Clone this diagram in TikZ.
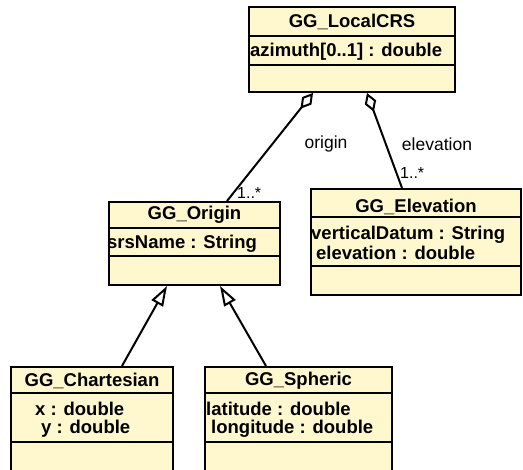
\documentclass[tikz,border=0pt]{standalone}
\usepackage{fontspec}
\setmainfont{Liberation Sans}
\usepackage{tikz}
\usetikzlibrary{arrows.meta,positioning,calc}
\definecolor{classfill}{RGB}{255,248,206}

\begin{document}
\begin{tikzpicture}[x=1pt,y=-1pt,
  classbox/.style={draw, line width=2pt, fill=classfill, inner sep=0pt},
  classname/.style={font=\fontsize{18.5}{20}\selectfont\bfseries, inner sep=0pt},
  attr/.style={font=\fontsize{18.5}{20}\selectfont\bfseries, inner sep=0pt, anchor=west},
  rolelabel/.style={font=\fontsize{17.5}{20}\selectfont, inner sep=0pt},
  mult/.style={font=\fontsize{16}{18}\selectfont, inner sep=0pt, anchor=base west},
  aggr/.style={line width=2pt, {Diamond[open,length=20pt,width=12pt]}-},
  gen/.style={line width=2pt, -{Triangle[open,length=20pt,width=13pt]}},
  sep/.style={line width=2pt}]

\useasboundingbox (0,0) rectangle (523,470);

% Classes
\node[classbox, minimum width=206pt, minimum height=85pt] (localcrs) at (352,49.5) {};
\draw[sep] ($(localcrs.north west)+(0,30)$) -- ($(localcrs.north east)+(0,30)$);
\draw[sep] ($(localcrs.north west)+(0,59)$) -- ($(localcrs.north east)+(0,59)$);
\node[classname] (localcrs-name) at ($(localcrs.north)+(0,16)$) {GG\_LocalCRS};
\node[attr] (localcrs-azimuth) at ($(localcrs.north west)+(2,46)$) {azimuth[0..1] : double};

\node[classbox, minimum width=171pt, minimum height=83pt] (origin) at (194.5,243.5) {};
\draw[sep] ($(origin.north west)+(0,27)$) -- ($(origin.north east)+(0,27)$);
\draw[sep] ($(origin.north west)+(0,55)$) -- ($(origin.north east)+(0,55)$);
\node[classname] (origin-name) at ($(origin.north)+(0,14)$) {GG\_Origin};
\node[attr] (origin-srsname) at ($(origin.north west)+(-1,43)$) {srsName : String};

\node[classbox, minimum width=210pt, minimum height=106pt] (elevation) at (416,242) {};
\draw[sep] ($(elevation.north west)+(0,29)$) -- ($(elevation.north east)+(0,29)$);
\draw[sep] ($(elevation.north west)+(0,78)$) -- ($(elevation.north east)+(0,78)$);
\node[classname] (elevation-name) at ($(elevation.north)+(0,19)$) {GG\_Elevation};
\node[attr] (elevation-datum) at ($(elevation.north west)+(1,47)$) {verticalDatum : String};
\node[attr] (elevation-value) at ($(elevation.north west)+(6,65)$) {elevation : double};

\node[classbox, minimum width=162pt, minimum height=110pt] (chartesian) at (92,422) {};
\draw[sep] ($(chartesian.north west)+(0,27)$) -- ($(chartesian.north east)+(0,27)$);
\draw[sep] ($(chartesian.north west)+(0,76)$) -- ($(chartesian.north east)+(0,76)$);
\node[classname] (chartesian-name) at ($(chartesian.north)+(0,15)$) {GG\_Chartesian};
\node[attr] (chartesian-x) at ($(chartesian.north west)+(25,43)$) {x : double};
\node[attr] (chartesian-y) at ($(chartesian.north west)+(31,63)$) {y : double};

\node[classbox, minimum width=187pt, minimum height=110pt] (spheric) at (298.5,422) {};
\draw[sep] ($(spheric.north west)+(0,27)$) -- ($(spheric.north east)+(0,27)$);
\draw[sep] ($(spheric.north west)+(0,76)$) -- ($(spheric.north east)+(0,76)$);
\node[classname] (spheric-name) at ($(spheric.north)+(0,15)$) {GG\_Spheric};
\node[attr] (spheric-lat) at ($(spheric.north west)+(2,43)$) {latitude : double};
\node[attr] (spheric-lon) at ($(spheric.north west)+(7,63)$) {longitude : double};

% Aggregations
\coordinate (localcrs-a1) at ($(localcrs.south west)+(65,0)$);
\coordinate (localcrs-a2) at ($(localcrs.south west)+(119,0)$);
\coordinate (origin-top) at ($(origin.north west)+(119,0)$);
\coordinate (elevation-top) at ($(elevation.north west)+(92,0)$);
\draw[aggr] (localcrs-a1) -- (origin-top);
\draw[aggr] (localcrs-a2) -- (elevation-top);

\node[rolelabel] (origin-role) at (326,144) {origin};
\node[rolelabel] (elevation-role) at (437,144) {elevation};
\node[mult] (origin-mult) at (237,199) {1..*};
\node[mult] (elevation-mult) at (400,179) {1..*};

% Generalizations
\coordinate (origin-g1) at ($(origin.south west)+(59,0)$);
\coordinate (origin-g2) at ($(origin.south west)+(112,0)$);
\coordinate (chartesian-top) at ($(chartesian.north west)+(112,0)$);
\coordinate (spheric-top) at ($(spheric.north west)+(62,0)$);
\draw[gen] (chartesian-top) -- (origin-g1);
\draw[gen] (spheric-top) -- (origin-g2);

\end{tikzpicture}
\end{document}
